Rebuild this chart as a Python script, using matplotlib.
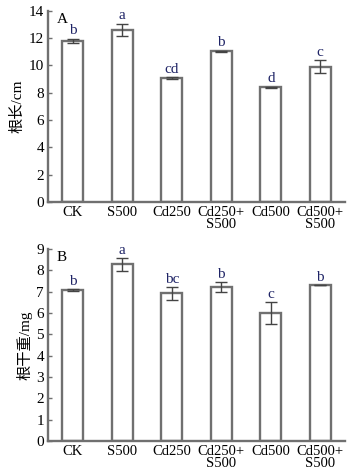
import matplotlib.pyplot as plt

plt.rcParams['font.family'] = ['Liberation Serif', 'Noto Sans CJK SC']
plt.rcParams['font.size'] = 10

groups = ['CK', 'S500', 'Cd250', 'Cd250+\nS500', 'Cd500', 'Cd500+\nS500']

length_mean = [11.8, 12.6, 9.08, 11.05, 8.4, 9.92]
length_err = [0.17, 0.45, 0.08, 0.04, 0.04, 0.45]
length_letters = ['b', 'a', 'cd', 'b', 'd', 'c']

weight_mean = [7.08, 8.28, 6.93, 7.23, 6.0, 7.32]
weight_err = [0.05, 0.3, 0.3, 0.22, 0.5, 0.0]
weight_letters = ['b', 'a', 'bc', 'b', 'c', 'b']

EDGE = '#707070'
LETTER = '#1f2466'


def panel(ax, mean, err, letters, ymax, step, label, tag, pad):
    x = list(range(len(groups)))
    ax.bar(x, mean, width=0.42, color='white', edgecolor=EDGE, linewidth=1.7)
    ax.errorbar(x, mean, yerr=err, fmt='none', ecolor='#444444',
                elinewidth=1.0, capsize=4, capthick=1.0)
    for i in x:
        ax.text(i, mean[i] + err[i] + pad, letters[i], ha='center',
                va='bottom', color=LETTER, fontsize=11)
    ax.set_xlim(-0.5, 5.5)
    ax.set_ylim(0, ymax)
    ax.set_yticks(range(0, ymax + 1, step))
    ax.set_xticks(x)
    ax.set_xticklabels(groups, linespacing=0.85, fontsize=10.5)
    ax.tick_params(axis='y', labelsize=11)
    ax.set_ylabel(label, fontsize=11, labelpad=3)
    ax.text(0.03, 0.99, tag, transform=ax.transAxes, ha='left', va='top',
            fontsize=11)
    for s in ['top', 'right']:
        ax.spines[s].set_visible(False)
    for s in ['left', 'bottom']:
        ax.spines[s].set_color(EDGE)
        ax.spines[s].set_linewidth(1.7)
    ax.tick_params(axis='y', direction='in', length=3, width=1, color=EDGE,
                   pad=3)
    ax.tick_params(axis='x', length=0, pad=3)


fig = plt.figure(figsize=(3.51, 4.71), dpi=100)
ax1 = fig.add_axes([0.137, 0.571, 0.846, 0.406])
ax2 = fig.add_axes([0.137, 0.064, 0.846, 0.407])

panel(ax1, length_mean, length_err, length_letters, 14, 2, '根长/cm', 'A', 0.1)
panel(ax2, weight_mean, weight_err, weight_letters, 9, 1, '根干重/mg', 'B', 0.06)

fig.savefig('out.png', dpi=100)
